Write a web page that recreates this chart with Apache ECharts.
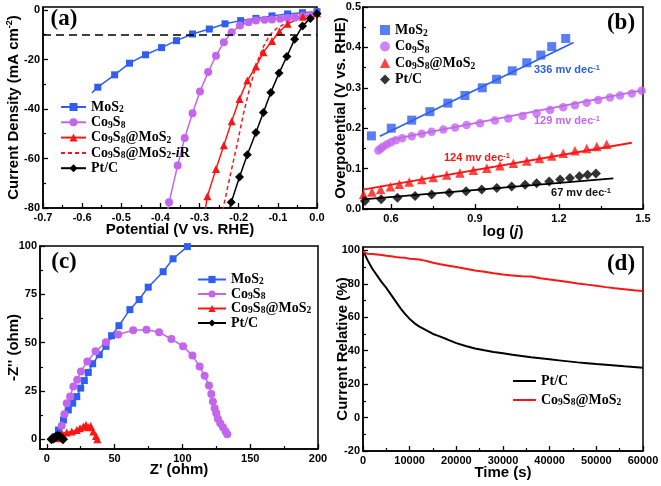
<!DOCTYPE html>
<html><head><meta charset="utf-8">
<script src="https://cdn.jsdelivr.net/npm/echarts@6/dist/echarts.min.js"></script>
<style>html,body{margin:0;padding:0;background:#fff}#c{width:661px;height:486px}</style>
</head><body><div id="c"></div>
<script>
// ---------- Panel (a): polarization curves (V vs RHE, mA cm-2) ----------
const aMoS2 = [[-0.560,-31.2],[-0.517,-26.2],[-0.479,-21.5],[-0.438,-18.1],[-0.397,-15.2],[-0.359,-12.4],[-0.318,-9.7],[-0.275,-7.7],[-0.235,-5.6],[-0.195,-4.3],[-0.156,-3.4],[-0.115,-2.4],[-0.075,-1.6],[-0.037,-1.1],[0,-0.7]];
const aMoS2Lead = [-0.575,-33.5];
const aCo9S8 = [[-0.378,-77.7],[-0.356,-62.8],[-0.338,-51.7],[-0.318,-41.7],[-0.299,-32.9],[-0.278,-25.1],[-0.258,-18.5],[-0.238,-13.0],[-0.218,-9.0],[-0.197,-6.3],[-0.175,-5.0],[-0.156,-4.3],[-0.134,-4.0],[-0.115,-3.8],[-0.094,-3.5],[-0.075,-3.2],[-0.056,-3.0],[-0.036,-2.4],[-0.015,-1.9]];
const aCo9S8Lead = [-0.382,-82];
const aCoMoS = [[-0.280,-75.3],[-0.258,-64.2],[-0.238,-54.7],[-0.218,-45.0],[-0.198,-36.0],[-0.178,-28.5],[-0.156,-22.8],[-0.137,-17.1],[-0.115,-12.5],[-0.096,-8.7],[-0.075,-5.6],[-0.036,-2.7],[0,-1.3]];
const aCoMoSLead = [-0.287,-82];
const aCoMoSiR = [[-0.241,-81],[-0.222,-67],[-0.205,-55],[-0.188,-42],[-0.171,-31],[-0.154,-21.5],[-0.137,-14.8],[-0.120,-10],[-0.103,-7.4],[-0.077,-5.1],[-0.043,-3.0],[0,-1.3]];
const aPtC = [[-0.219,-77.7],[-0.198,-67.5],[-0.178,-58.5],[-0.156,-49.5],[-0.137,-41.4],[-0.118,-33.3],[-0.097,-25.5],[-0.077,-18.8],[-0.057,-11.8],[-0.037,-6.5],[-0.017,-3.4],[0,-1.5]];
const aPtCLead = [-0.226,-82];
const aRefLevel = -10;
const aXTicks = [-0.7,-0.6,-0.5,-0.4,-0.3,-0.2,-0.1,0];
const aXMinor = [-0.65,-0.55,-0.45,-0.35,-0.25,-0.15,-0.05];
const aYTicks = [-80,-60,-40,-20,0];
const aYMinor = [-70,-50,-30,-10];

// ---------- Panel (b): Tafel plots ----------
const bMoS2 = [[0.530,0.181],[0.601,0.200],[0.674,0.220],[0.739,0.241],[0.803,0.262],[0.864,0.281],[0.926,0.300],[0.977,0.321],[1.033,0.342],[1.085,0.362],[1.135,0.381],[1.174,0.402],[1.224,0.422]];
const bMoS2Fit = [[0.560,0.180],[1.252,0.412]];
const bCo9S8 = [[0.555,0.145],[0.563,0.150],[0.573,0.155],[0.586,0.160],[0.600,0.165],[0.617,0.170],[0.640,0.175],[0.674,0.180],[0.710,0.186],[0.745,0.191],[0.787,0.197],[0.829,0.202],[0.870,0.208],[0.918,0.212],[0.971,0.219],[1.019,0.224],[1.070,0.230],[1.120,0.237],[1.168,0.245],[1.215,0.252],[1.257,0.257],[1.299,0.263],[1.340,0.270],[1.382,0.276],[1.418,0.281],[1.460,0.286],[1.495,0.293]];
const bCo9S8Fit = [[0.600,0.172],[1.500,0.294]];
const bCoMoS = [[0.502,0.036],[0.532,0.042],[0.563,0.048],[0.598,0.055],[0.630,0.061],[0.665,0.067],[0.710,0.073],[0.751,0.078],[0.799,0.084],[0.846,0.089],[0.894,0.096],[0.942,0.101],[0.989,0.107],[1.037,0.113],[1.085,0.119],[1.130,0.125],[1.174,0.131],[1.215,0.138],[1.257,0.144],[1.299,0.150],[1.335,0.155],[1.370,0.160]];
const bCoMoSFit = [[0.500,0.048],[1.460,0.164]];
const bPtC = [[0.507,0.020],[0.565,0.024],[0.623,0.028],[0.686,0.032],[0.745,0.036],[0.808,0.040],[0.868,0.044],[0.924,0.048],[0.978,0.052],[1.031,0.056],[1.079,0.060],[1.120,0.064],[1.165,0.068],[1.204,0.073],[1.239,0.077],[1.273,0.081],[1.302,0.085],[1.332,0.088]];
const bPtCFit = [[0.500,0.024],[1.394,0.076]];
const bXTicks = [0.6,0.9,1.2,1.5];
const bXMinor = [0.75,1.05,1.35];
const bYTicks = [0,0.1,0.2,0.3,0.4,0.5];
const bYMinor = [0.05,0.15,0.25,0.35,0.45];
const bSlopeLabels = ['336 mv dec','129 mv dec','124 mv dec','67 mv dec'];

// ---------- Panel (c): Nyquist plots ----------
const cMoS2 = [[6.1,1.4],[8.6,4.8],[12.3,10.0],[15.9,15.2],[19.1,18.7],[22.1,22.1],[25.0,26.5],[27.7,30.4],[30.6,34.6],[33.8,39.1],[38.7,43.8],[43.6,48.1],[47.8,53.6],[53.2,58.8],[61.3,67.1],[68.1,72.3],[74.8,78.7],[85.8,86.7],[93.1,93.4],[103.7,99.7]];
const cMoS2Tail = [108,103];
const cCo9S8 = [[9,2],[11,7],[13,13],[14.7,18.7],[17.2,22.1],[19.6,27.3],[22.5,30.8],[25.2,35.1],[29.9,40.3],[36.0,45.5],[43.6,50.2],[52.7,54.2],[63.7,56.4],[73.5,56.7],[82.8,55.4],[91.9,51.9],[100.5,48.1],[107.4,43.3],[112.7,37.7],[116.4,32.9],[119.6,27.9],[121.3,23.5],[122.5,19.6],[123.8,16.1],[125.0,13.5],[126.2,10.6],[127.9,8.3],[129.9,6.2],[131.9,4.0],[133.1,2.6]];
const cCoMoS = [[7.4,0.5],[11.0,3.1],[14.7,3.5],[18.4,4.0],[22.1,4.8],[24.5,5.7],[27.0,6.6],[28.9,7.4],[30.6,6.2],[32.4,6.9],[34.3,4.0],[36.3,1.7],[37.3,0]];
const cPtC = [[3.5,0],[5,0.4],[6.5,1.2],[8,1.8],[9.5,1.5],[11,0.7],[12,0.1]];
const cXTicks = [0,50,100,150,200];
const cXMinor = [25,75,125,175];
const cYTicks = [0,25,50,75,100];
const cYMinor = [12.5,37.5,62.5,87.5];

// ---------- Panel (d): chronoamperometry ----------
const dTime = [0,500,1000,2000,3000,4000,5000,6000,7000,8000,9000,10000,11000,12000,13000,14000,15000,16000,18000,20000,22000,24000,26000,28000,30000,32000,34000,36000,38000,40000,42000,44000,46000,48000,50000,52000,54000,56000,58000,60000];
const dPtC = [100,97,94,89,85,81,77.5,73.5,69.5,65.5,62,59,56.5,54.5,53,51.5,50,49,46.8,44.5,42.8,41.3,40.2,39.2,38.4,37.6,36.8,36,35.4,34.8,34.2,33.6,33,32.5,32,31.6,31.2,30.7,30.3,29.8];
const dCoMoS = [99.5,98.5,98,97.8,97.5,97.2,96.8,96.5,96,95.7,95.5,95,94.8,94.5,94,93.3,92.6,92,91,90,89,88,87.2,86.3,85.5,85,84.5,84.3,83.3,82.5,81.8,81,80.2,79.5,78.8,78,77.3,76.8,76.2,75.7];
const dXTicks = [0,10000,20000,30000,40000,50000,60000];
const dXMinor = [5000,15000,25000,35000,45000,55000];
const dYTicks = [-20,0,20,40,60,80,100];
const dYMinor = [-10,10,30,50,70,90];

// ---------- styling ----------
const SANS = '"Liberation Sans", Arial, sans-serif';
const SERIF = '"Liberation Serif", "Times New Roman", serif';
const BLUE = '#2f5ff0', PURPLE = '#c266ee', RED = '#ff1414', BLACK = '#000000';

const LAB = {
  'MoS2': '{n|MoS}{s|2}',
  'Co9S8': '{n|Co}{s|9}{n|S}{s|8}',
  'Co9S8@MoS2': '{n|Co}{s|9}{n|S}{s|8}{n|@MoS}{s|2}',
  'Co9S8@MoS2-iR': '{n|Co}{s|9}{n|S}{s|8}{n|@MoS}{s|2}{n|-}{i|i}{n|R}',
  'Pt/C': '{n|Pt/C}'
};
function legRich(lh){
  return {
    n:{fontFamily:SERIF,fontWeight:'bold',fontSize:14,color:'#000',lineHeight:lh},
    s:{fontFamily:SERIF,fontWeight:'bold',fontSize:9.5,color:'#000',lineHeight:8,verticalAlign:'bottom'},
    i:{fontFamily:SERIF,fontWeight:'bold',fontStyle:'italic',fontSize:14,color:'#000',lineHeight:lh}
  };
}
const nameRich = {
  t:{fontFamily:SANS,fontWeight:'bold',fontSize:15,color:'#000',lineHeight:18},
  p:{fontFamily:SANS,fontWeight:'bold',fontSize:9,color:'#000',lineHeight:9,verticalAlign:'top'},
  i:{fontFamily:SANS,fontWeight:'bold',fontStyle:'italic',fontSize:15,color:'#000',lineHeight:18}
};
function axisPair(dim, grid, min, max, majors, minors, fmt, name, nameGap, margin){
  const pos = dim === 'x' ? 'bottom' : 'left';
  const main = {
    type:'value', gridIndex:grid, min:min, max:max, position:pos, offset:0,
    axisLine:{show:true,onZero:false,lineStyle:{color:'#000',width:1.5}},
    axisTick:{show:true,inside:true,length:5,lineStyle:{color:'#000',width:1.3},customValues:majors},
    axisLabel:{show:true,customValues:majors,formatter:fmt,color:'#000',fontFamily:SANS,fontWeight:'bold',fontSize:11,margin:margin},
    splitLine:{show:false}, minorTick:{show:false},
    name:name, nameLocation:'middle', nameGap:nameGap, nameMoveOverlap:false,
    nameTextStyle:{fontFamily:SANS,fontWeight:'bold',fontSize:15,color:'#000',rich:nameRich}
  };
  const minor = {
    type:'value', gridIndex:grid, min:min, max:max, position:pos, offset:0,
    axisLine:{show:false,onZero:false},
    axisTick:{show:true,inside:true,length:3,lineStyle:{color:'#000',width:1.2},customValues:minors},
    axisLabel:{show:false}, splitLine:{show:false}
  };
  return [main, minor];
}
const f1 = v => (Math.abs(v) < 1e-9 ? 0 : v).toFixed(1);
const f0 = v => String(Math.round(v));

const xa = axisPair('x',0,-0.7,0,aXTicks,aXMinor,f1,'{t|Potential (V vs. RHE)}',12.5,4);
const xb = axisPair('x',1,0.5,1.5,bXTicks,bXMinor,f1,'{t|log (}{i|j}{t|)}',14,4);
const xc = axisPair('x',2,-5,200,cXTicks,cXMinor,f0,"{t|Z' (ohm)}",12,4);
const xd = axisPair('x',3,0,60000,dXTicks,dXMinor,f0,'{t|Time (s)}',13,4);
const ya = axisPair('y',0,-80,1.2,aYTicks,aYMinor,f0,'{t|Current Density (mA cm}{p|-2}{t|)}',20,3);
const yb = axisPair('y',1,0,0.5,bYTicks,bYMinor,f1,'{t|Overpotential (V vs. RHE)}',13,2);
const yc = axisPair('y',2,-5,100,cYTicks,cYMinor,f0,"{t|-Z'' (ohm)}",17,3);
const yd = axisPair('y',3,-20,102,dYTicks,dYMinor,f0,'{t|Current Relative (%)}',11,3);

function lead(p, arr){ return [{value:p, symbol:'none'}].concat(arr); }
function tail(arr, p){ return arr.concat([{value:p, symbol:'none'}]); }
function lineS(name, ax, data, color, symbol, size, extra){
  return Object.assign({name:name,type:'line',xAxisIndex:ax,yAxisIndex:ax,data:data,symbol:symbol,symbolSize:size,
    itemStyle:{color:color},lineStyle:{color:color,width:1.5},emphasis:{disabled:true},z:3}, extra||{});
}
function scatS(name, data, color, symbol, size){
  return {name:name,type:'scatter',xAxisIndex:1,yAxisIndex:1,data:data,symbol:symbol,symbolSize:size,itemStyle:{color:color},emphasis:{disabled:true},z:3};
}
function fitS(data, color){
  return {type:'line',xAxisIndex:1,yAxisIndex:1,data:data,symbol:'none',lineStyle:{color:color,width:1.8},emphasis:{disabled:true},z:4};
}
const dPairs = (vals) => dTime.map((t,i) => [t, vals[i]]);

const series = [
  lineS('a:MoS2',0,lead(aMoS2Lead,aMoS2),BLUE,'rect',7),
  lineS('a:Co9S8',0,lead(aCo9S8Lead,aCo9S8),PURPLE,'circle',8),
  lineS('a:Co9S8@MoS2',0,lead(aCoMoSLead,aCoMoS),RED,'triangle',8),
  lineS('a:Co9S8@MoS2-iR',0,aCoMoSiR,RED,'none',0,{lineStyle:{color:RED,width:1.5,type:[4,3]}}),
  lineS('a:Pt/C',0,lead(aPtCLead,aPtC),BLACK,'diamond',9,{markLine:{silent:true,animation:false,symbol:['none','none'],label:{show:false},
    lineStyle:{color:'#000',type:[8,5],width:1.5},data:[{yAxis:aRefLevel}]}}),
  scatS('b:MoS2',bMoS2,BLUE,'rect',9),
  scatS('b:Co9S8',bCo9S8,PURPLE,'circle',8.5),
  scatS('b:Co9S8@MoS2',bCoMoS,RED,'triangle',9.5),
  scatS('b:Pt/C',bPtC,BLACK,'diamond',10),
  fitS(bMoS2Fit,BLUE), fitS(bCo9S8Fit,PURPLE), fitS(bCoMoSFit,RED), fitS(bPtCFit,BLACK),
  lineS('c:MoS2',2,tail(cMoS2,cMoS2Tail),BLUE,'rect',7),
  lineS('c:Co9S8',2,cCo9S8,PURPLE,'circle',8),
  lineS('c:Co9S8@MoS2',2,cCoMoS,RED,'triangle',8),
  lineS('c:Pt/C',2,cPtC,BLACK,'diamond',10),
  lineS('d:Pt/C',3,dPairs(dPtC),BLACK,'none',0,{lineStyle:{color:BLACK,width:2}}),
  lineS('d:Co9S8@MoS2',3,dPairs(dCoMoS),RED,'none',0,{lineStyle:{color:RED,width:2}})
];

const legFmt = n => LAB[n.split(':')[1]];
const lineOnly = n => ({name:n, itemStyle:{opacity:0}});
function legend(left, top, iw, ih, gap, lh, data){
  return {orient:'vertical',left:left,top:top,itemWidth:iw,itemHeight:ih,itemGap:gap,padding:0,selectedMode:false,
    data:data,formatter:legFmt,textStyle:{fontFamily:SERIF,fontWeight:'bold',fontSize:14,color:'#000',rich:legRich(lh)}};
}
const gridBase = {show:true,borderColor:'#000',borderWidth:1.5,backgroundColor:'transparent',containLabel:false,outerBoundsMode:'none'};

function supText(x, y, txt, color){
  return {type:'text',x:x,y:y,silent:true,style:{text:'{t|'+txt+'}{p|-1}',align:'center',verticalAlign:'middle',
    rich:{t:{fontFamily:SANS,fontWeight:'bold',fontSize:11,fill:color,lineHeight:13},
          p:{fontFamily:SANS,fontWeight:'bold',fontSize:7.5,fill:color,lineHeight:7,verticalAlign:'top'}}}};
}
function panelTag(x, y, txt){
  return {type:'text',x:x,y:y,silent:true,style:{text:txt,fontFamily:SERIF,fontWeight:'bold',fontSize:23,fill:'#000',align:'center',verticalAlign:'middle'}};
}

const option = {
  animation:false,
  backgroundColor:'#ffffff',
  grid:[
    Object.assign({left:43,top:7,width:274,height:201},gridBase),
    Object.assign({left:363,top:7,width:280,height:202},gridBase),
    Object.assign({left:40,top:246,width:278,height:203},gridBase),
    Object.assign({left:363,top:247,width:280,height:204},gridBase)
  ],
  xAxis:[xa[0],xb[0],xc[0],xd[0],xa[1],xb[1],xc[1],xd[1]],
  yAxis:[ya[0],yb[0],yc[0],yd[0],ya[1],yb[1],yc[1],yd[1]],
  legend:[
    legend(60,100,25,10,0.3,16,['a:MoS2','a:Co9S8','a:Co9S8@MoS2',lineOnly('a:Co9S8@MoS2-iR'),'a:Pt/C']),
    legend(380,23,10,10,0.5,18,['b:MoS2','b:Co9S8','b:Co9S8@MoS2','b:Pt/C']),
    legend(197,272.5,28,9,0,15,['c:MoS2','c:Co9S8','c:Co9S8@MoS2','c:Pt/C']),
    legend(512,374,23,8,5,16,[lineOnly('d:Pt/C'),lineOnly('d:Co9S8@MoS2')])
  ],
  graphic:[
    panelTag(64,19,'(a)'), panelTag(621,23,'(b)'), panelTag(64,262,'(c)'), panelTag(621,264,'(d)'),
    supText(567,70,bSlopeLabels[0],'#2f5fd8'),
    supText(567,121,bSlopeLabels[1],PURPLE),
    supText(477,158,bSlopeLabels[2],RED),
    supText(581,193,bSlopeLabels[3],'#111')
  ],
  series:series
};
const chart = echarts.init(document.getElementById('c'), null, {renderer:'canvas'});
chart.setOption(option);
</script>
</body></html>
